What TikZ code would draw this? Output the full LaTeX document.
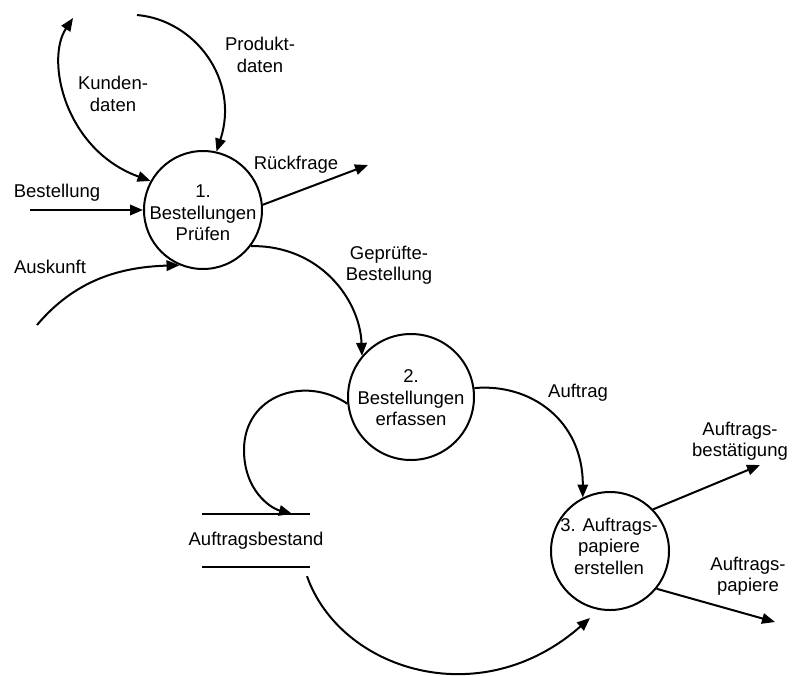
\documentclass[tikz,border=0pt]{standalone}
\usepackage{fontspec}
\setmainfont{Liberation Sans}
\usetikzlibrary{arrows.meta}
\begin{document}
\begin{tikzpicture}[x=1pt,y=-1pt,
  every node/.style={font=\fontsize{18.5}{21.5}\selectfont},
  proc/.style={circle,draw,line width=2pt,minimum size=118pt,inner sep=0pt},
  ptext/.style={align=center,inner sep=0pt},
  lbl/.style={align=center,inner sep=0pt},
  store/.style={minimum height=53pt,inner sep=0pt},
  dfarrow/.style={line width=2pt,-{Triangle[length=13pt,width=10.5pt]}},
  dfboth/.style={line width=2pt,{Triangle[length=13pt,width=10.5pt]}-{Triangle[length=13pt,width=10.5pt]}},
  dfline/.style={line width=2pt}]
\useasboundingbox (0,0) rectangle (792,675);

% processes
\node[proc] (p1) at (203,210) {};
\node[ptext] (p1t) at (203,213) {1.\\Bestellungen\\Prüfen};
\node[proc,minimum size=126pt] (p2) at (411,397) {};
\node[ptext] (p2t) at (411,398) {2.\\Bestellungen\\erfassen};
\node[proc] (p3) at (610,551) {};
\node[ptext] (p3t) at (609,546) {3. Auftrags-\\papiere\\erstellen};

% data store: two parallel lines around the name
\node[store] (ds) at (256,540.5) {Auftragsbestand};
\draw[dfline] ([xshift=-54pt]ds.north) -- ([xshift=54pt]ds.north);
\draw[dfline] ([xshift=-54pt]ds.south) -- ([xshift=54pt]ds.south);

% free ends of the flows
\coordinate (bestIn) at (30,210);
\coordinate (kdEnd) at (73,18);
\coordinate (pdStart) at (137,15);
\coordinate (rfEnd) at (368,165);
\coordinate (akStart) at (37,325);
\coordinate (abEnd) at (760,465);
\coordinate (apEnd) at (775,622);

% flows around process 1
\draw[dfarrow] (bestIn) -- (p1);
\draw[dfboth] (kdEnd) .. controls (45,60) and (65,150) .. (p1.151);
\draw[dfarrow] (pdStart) .. controls (195,20) and (240,80) .. (p1.77);
\draw[dfarrow] (p1.5) -- (rfEnd);
\draw[dfarrow] (akStart) .. controls (75,280) and (120,267) .. (p1.247);
\draw[dfarrow] (p1.323) .. controls (320,245) and (360,300) .. (p2.140);

% flows around process 2 and 3
\draw[dfarrow] (p2.186) .. controls (305,375) and (244,395) .. (244,450)
  .. controls (244,490) and (270,508) .. ([xshift=36pt]ds.north);
\draw[dfarrow] (p2.8) .. controls (530,383) and (583,420) .. (p3.117);
\draw[dfarrow] ([shift={(51,9)}]ds.south) .. controls (340,670) and (480,715) .. (590,618);
\draw[dfarrow] (p3.44) -- (abEnd);
\draw[dfarrow] (p3.321) -- (apEnd);

% flow labels
\node[lbl] (lBest) at (57,193) {Bestellung};
\node[lbl] (lKd) at (113,94) {Kunden-\\daten};
\node[lbl] (lPd) at (260,55) {Produkt-\\daten};
\node[lbl] (lRf) at (296,165) {Rückfrage};
\node[lbl] (lAk) at (50,267) {Auskunft};
\node[lbl] (lGb) at (389,265) {Geprüfte-\\Bestellung};
\node[lbl] (lAt) at (578,393) {Auftrag};
\node[lbl] (lAb) at (740,441) {Auftrags-\\bestätigung};
\node[lbl] (lAp) at (748,576) {Auftrags-\\papiere};
\end{tikzpicture}
\end{document}
